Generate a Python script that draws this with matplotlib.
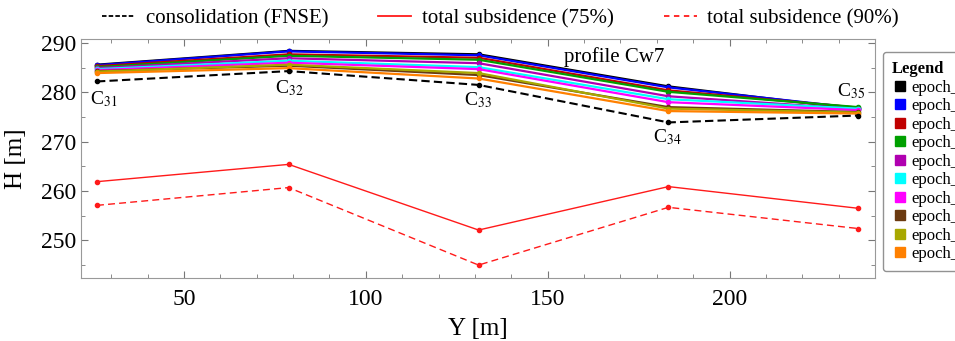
#Profile Cw7 - heights of survey points per epoch vs predicted subsidence

#Libraries
import matplotlib.pyplot as plt
from matplotlib.lines import Line2D
from matplotlib.ticker import MultipleLocator

plt.rcParams['font.family'] = ['Liberation Serif', 'DejaVu Serif']
plt.rcParams['mathtext.fontset'] = 'stix'

#Data
points = ['C$_{31}$', 'C$_{32}$', 'C$_{33}$', 'C$_{34}$', 'C$_{35}$']
y_pos = [26.1, 78.8, 131.0, 183.2, 235.4]

epochs = ['epoch_0', 'epoch_1', 'epoch_2', 'epoch_3', 'epoch_4',
          'epoch_5', 'epoch_6', 'epoch_7', 'epoch_8', 'epoch_9']
epoch_colors = ['#000000', '#0000ff', '#c00000', '#00a000', '#b000b0',
                '#00ffff', '#ff00ff', '#6b3a10', '#a8a800', '#ff8000']
epoch_heights = [
    [285.6, 288.4, 287.7, 281.2, 276.6],
    [285.5, 288.3, 287.5, 281.0, 276.8],
    [285.3, 287.7, 287.0, 280.4, 276.9],
    [285.1, 287.4, 286.6, 280.1, 277.0],
    [284.9, 286.9, 285.9, 279.2, 276.6],
    [284.7, 286.4, 285.1, 278.6, 276.7],
    [284.5, 286.0, 284.7, 278.0, 276.4],
    [284.3, 285.4, 283.5, 277.0, 276.0],
    [284.2, 285.6, 283.9, 276.7, 275.9],
    [283.9, 284.9, 282.8, 276.2, 275.7],
]

consolidation = [282.2, 284.3, 281.5, 273.9, 275.3]
subs_75 = [261.9, 265.4, 252.1, 260.9, 256.5]
subs_90 = [257.1, 260.7, 245.0, 256.7, 252.4]

label_pos = [(28.0, 278.6), (79.1, 280.8), (130.8, 278.4), (183.0, 271.0), (233.5, 280.2)]

fig = plt.figure(figsize=(9.55, 3.41), dpi=100)
ax = fig.add_axes([0.0848, 0.185, 0.8315, 0.7006])

for name, col, h in zip(epochs, epoch_colors, epoch_heights):
    ax.plot(y_pos, h, color=col, lw=1.6, marker='o', ms=3, label=name)

ax.plot(y_pos, consolidation, color='black', ls=(0, (4, 2)), lw=1.5, marker='o', ms=3)
ax.plot(y_pos, subs_75, color='#ff1a1a', lw=1.0, marker='o', ms=3)
ax.plot(y_pos, subs_90, color='#ff1a1a', ls=(0, (5, 3)), lw=1.0, marker='o', ms=3)

for lab, (lx, ly) in zip(points, label_pos):
    ax.text(lx, ly, lab, ha='center', va='center', fontsize=14)

ax.text(168.4, 287.1, 'profile Cw7', ha='center', va='center', fontsize=15)

ax.set_xlim(21.7, 240)
ax.set_ylim(242.4, 290.8)
ax.xaxis.set_major_locator(MultipleLocator(50))
ax.xaxis.set_minor_locator(MultipleLocator(10))
ax.yaxis.set_major_locator(MultipleLocator(10))
ax.yaxis.set_minor_locator(MultipleLocator(5))
ax.tick_params(which='both', direction='in', top=True, right=True, labelsize=17, color='#777777')
ax.tick_params(axis='x', pad=8)
ax.tick_params(which='major', length=5)
ax.tick_params(which='minor', length=3)
for sp in ax.spines.values():
    sp.set_color('#999999')
ax.set_xlabel('Y [m]', fontsize=18, labelpad=6)
ax.set_ylabel('H [m]', fontsize=18, labelpad=10)

# top legend (outside axes)
top_handles = [
    Line2D([], [], color='black', ls=(0, (2.5, 1.2)), lw=1.3),
    Line2D([], [], color='#ff1a1a', lw=1.3),
    Line2D([], [], color='#ff1a1a', ls=(0, (3, 2.5)), lw=1.3),
]
top_labels = ['consolidation (FNSE)', 'total subsidence (75%)', 'total subsidence (90%)']
fig.legend(top_handles, top_labels, loc='center', bbox_to_anchor=(0.524, 0.945), ncol=3,
           frameon=False, fontsize=15, handlelength=1.6, handletextpad=0.5, columnspacing=2.4)

# epoch legend on the right, cut off by figure edge as in the original
sq_handles = [Line2D([], [], color=c, marker='s', ls='none', ms=7) for c in epoch_colors]
leg = fig.legend(sq_handles, epochs, loc='upper left', bbox_to_anchor=(0.919, 0.862),
                 title='Legend', fontsize=12, title_fontsize=12, frameon=True,
                 handletextpad=0.2, labelspacing=0.15, borderpad=0.35, handlelength=1.0)
leg.get_title().set_fontweight('bold')
leg._legend_box.align = 'left'
leg.get_frame().set_edgecolor('#777777')
leg.get_frame().set_boxstyle('round', pad=0.2)

fig.savefig('out.png', dpi=100)
